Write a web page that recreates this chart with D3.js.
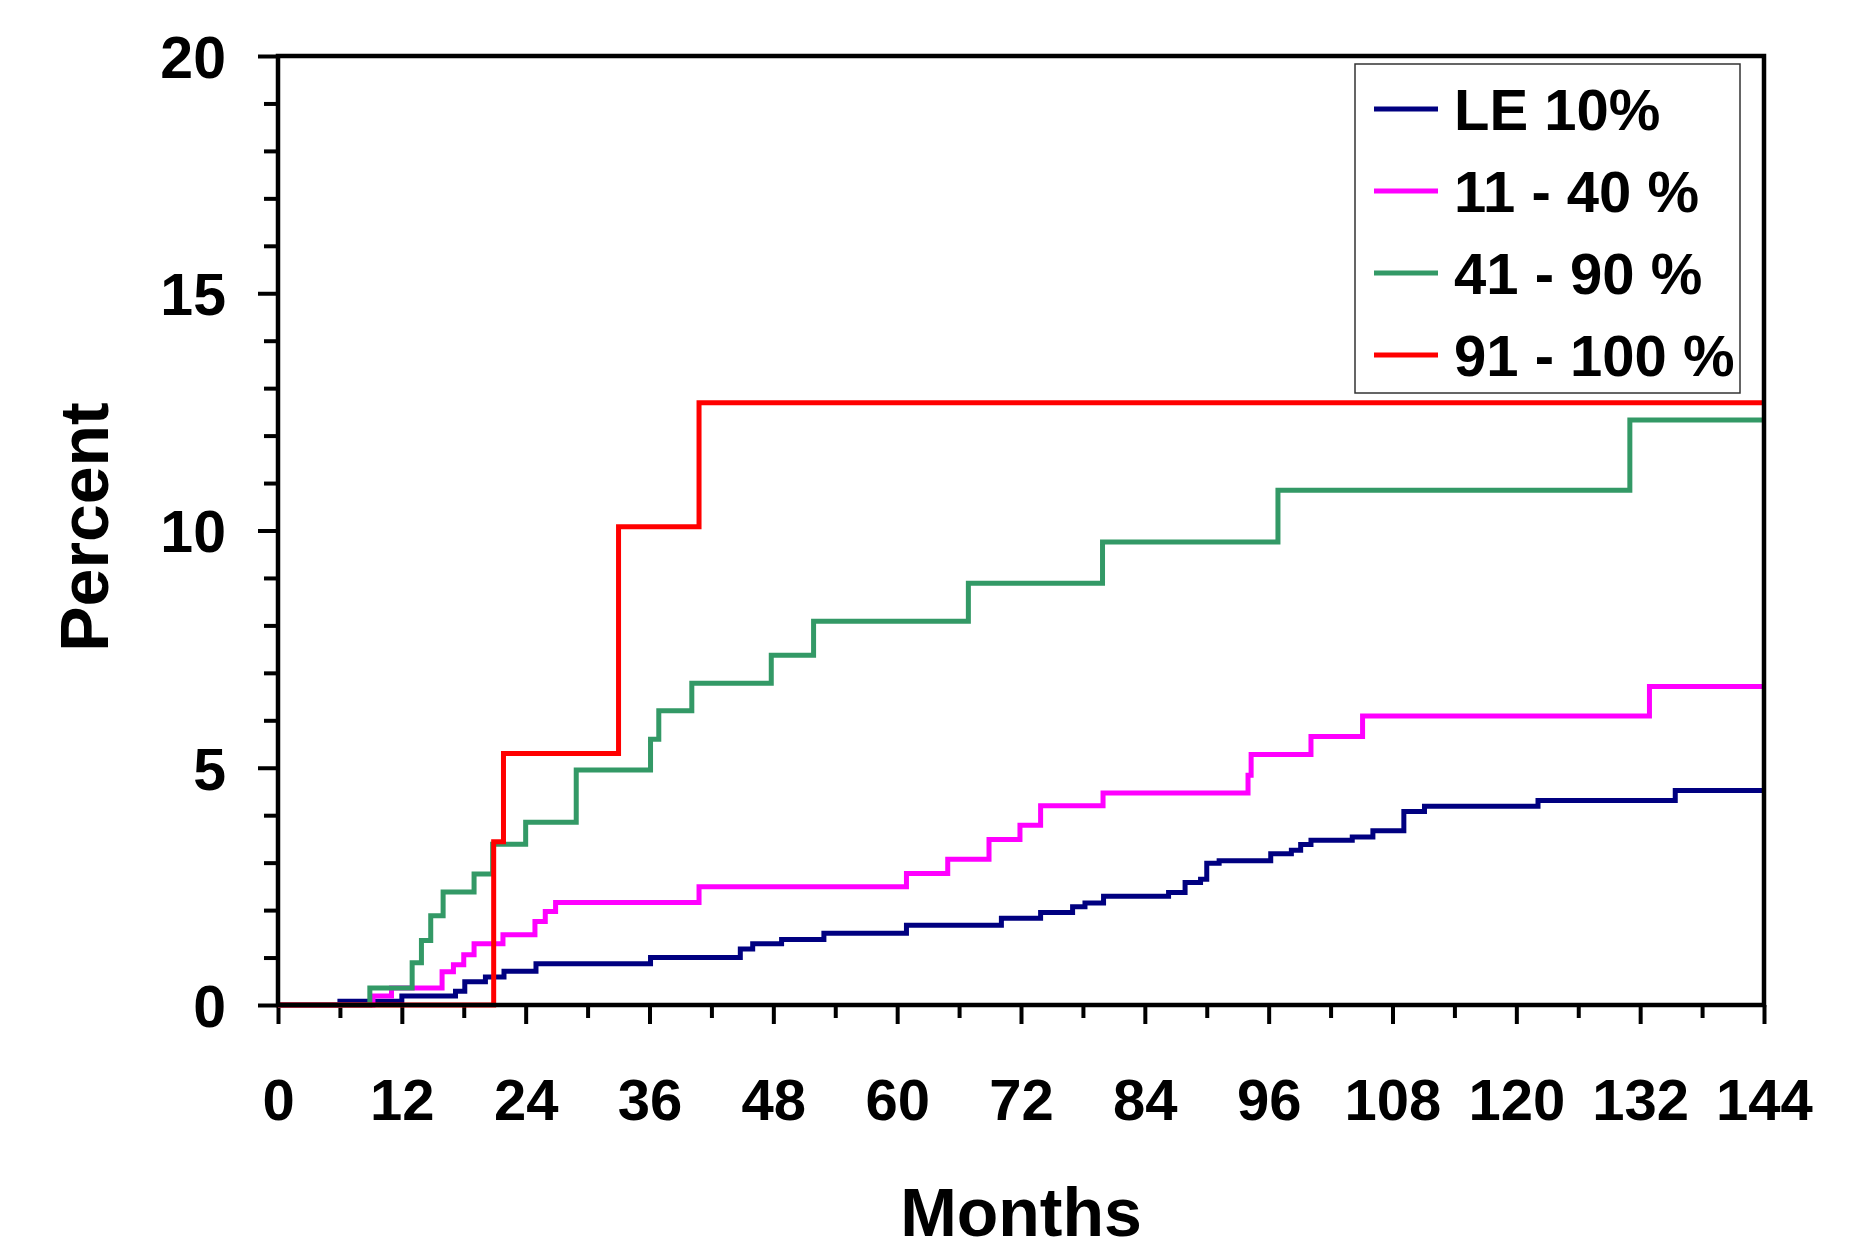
<!DOCTYPE html>
<html>
<head>
<meta charset="utf-8">
<script src="https://cdn.jsdelivr.net/npm/d3@7"></script>
<style>
  body { margin: 0; background: #fff; }
  svg { display: block; }
  text { font-family: "Liberation Sans", Arial, sans-serif; font-weight: bold; fill: #000; }
</style>
</head>
<body>
<div id="chart"></div>
<script>

// step points [month, percent]
const le10 = [[0,0],[6.0,0.08],[12.0,0.19],[17.2,0.29],[18.1,0.49],[20.1,0.59],[21.9,0.71],[25.0,0.87],
    [36.1,1.00],[44.8,1.18],[46.0,1.29],[48.8,1.38],[52.9,1.51],[60.9,1.68],[70.1,1.83],[73.9,1.95],
    [77.0,2.07],[78.2,2.15],[80.0,2.29],[86.3,2.37],[87.9,2.58],[89.4,2.65],[90.0,2.99],[91.2,3.04],
    [96.2,3.19],[98.2,3.26],[99.1,3.38],[100.1,3.47],[104.1,3.54],[106.1,3.67],[109.1,4.08],[111.1,4.19],
    [122.1,4.31],[135.4,4.52],[144,4.52]];

const le11to40 = [[0,0],[9.2,0.19],[11.0,0.36],[15.9,0.70],[17.0,0.85],[18.0,1.06],[19.0,1.29],[21.8,1.48],
    [24.9,1.76],[25.9,1.97],[26.9,2.16],[40.8,2.49],[60.9,2.77],[64.9,3.07],[68.9,3.49],[71.9,3.79],
    [73.9,4.20],[79.95,4.47],[94.0,4.84],[94.3,5.28],[100.1,5.66],[105.1,6.09],[132.9,6.71],[144,6.71]];

const le41to90 = [[0,0],[8.9,0.36],[13.0,0.89],[13.9,1.36],[14.8,1.88],[16.0,2.38],[19.0,2.76],[20.8,3.39],
    [24.0,3.85],[28.9,4.95],[36.1,5.60],[36.9,6.20],[40.1,6.78],[47.8,7.37],[51.9,8.09],[66.9,8.89],
    [79.9,9.76],[96.9,10.85],[131.0,12.33],[144,12.33]];

const le91to100 = [[0,0],[20.9,3.44],[21.85,5.30],[33.0,10.08],[40.8,12.69],[144,12.69]];

const seriesNames = ["LE 10%", "11 - 40 %", "41 - 90 %", "91 - 100 %"];
const seriesData = [le10, le11to40, le41to90, le91to100];
const seriesColors = ["#000080", "#FF00FF", "#339966", "#FF0000"];

const xMajorTicks = d3.range(0, 145, 12);
const xMinorTicks = d3.range(6, 145, 12);
const yMajorTicks = [0, 5, 10, 15, 20];
const yMinorTicks = d3.range(0, 21, 1).filter(d => d % 5 !== 0);

const width = 1873,
    height = 1247,
    margin = { top: 56, right: 109, bottom: 242, left: 278 };

const innerWidth = width - margin.left - margin.right,
    innerHeight = height - margin.top - margin.bottom;

const svg = d3.select("#chart").append("svg")
    .attr("width", width)
    .attr("height", height);

const g = svg.append("g")
    .attr("transform", `translate(${margin.left},${margin.top})`);

const x = d3.scaleLinear().domain([0, 144]).range([0, innerWidth]);
const y = d3.scaleLinear().domain([0, 20]).range([innerHeight, 0]);

// axes: major ticks with labels, minor ticks without
const xAxis = g.append("g")
    .attr("transform", `translate(0,${innerHeight})`)
    .call(d3.axisBottom(x).tickValues(xMajorTicks).tickSize(19).tickPadding(96))
    .attr("font-size", 58)
    .attr("font-family", null);

g.append("g")
    .attr("transform", `translate(0,${innerHeight})`)
    .call(d3.axisBottom(x).tickValues(xMinorTicks).tickSize(13).tickFormat(""));

const yAxis = g.append("g")
    .call(d3.axisLeft(y).tickValues(yMajorTicks).tickSize(20).tickPadding(32))
    .attr("font-size", 59)
    .attr("font-family", null);

g.append("g")
    .call(d3.axisLeft(y).tickValues(yMinorTicks).tickSize(14).tickFormat(""));

g.selectAll(".domain").remove();
g.selectAll(".tick line")
    .attr("stroke", "#000")
    .attr("stroke-width", 4);

xAxis.selectAll("text")
    .attr("dy", "0");

yAxis.selectAll("text")
    .attr("dy", "0.36em");

// lines
const line = d3.line()
    .curve(d3.curveStepAfter)
    .x(d => x(d[0]))
    .y(d => y(d[1]));

g.selectAll(".series")
    .data(seriesData)
    .enter()
    .append("path")
    .attr("class", "series")
    .attr("fill", "none")
    .attr("stroke", (d, i) => seriesColors[i])
    .attr("stroke-width", 5)
    .attr("d", line);

// plot frame
g.append("rect")
    .attr("width", innerWidth)
    .attr("height", innerHeight)
    .attr("fill", "none")
    .attr("stroke", "#000")
    .attr("stroke-width", 4.5);

// legend
const legend = g.append("g")
    .attr("transform", `translate(${1355 - margin.left},${64 - margin.top})`);

legend.append("rect")
    .attr("width", 385)
    .attr("height", 329)
    .attr("fill", "#fff")
    .attr("stroke", "#333")
    .attr("stroke-width", 1.5);

seriesNames.forEach(function(d, i) {
    let legendRow = legend.append("g")
        .attr("transform", `translate(0,${45 + i * 82})`);

    legendRow.append("line")
        .attr("x1", 19)
        .attr("x2", 83)
        .attr("stroke", seriesColors[i])
        .attr("stroke-width", 5);

    legendRow.append("text")
        .attr("x", 99)
        .attr("y", 21)
        .attr("font-size", 58)
        .text(d);
});

// axis titles
g.append("text")
    .attr("x", innerWidth / 2)
    .attr("y", 1236 - margin.top)
    .attr("text-anchor", "middle")
    .attr("font-size", 68)
    .text("Months");

g.append("text")
    .attr("transform", `translate(${108 - margin.left},${527 - margin.top}) rotate(-90)`)
    .attr("text-anchor", "middle")
    .attr("font-size", 68)
    .text("Percent");

</script>
</body>
</html>
